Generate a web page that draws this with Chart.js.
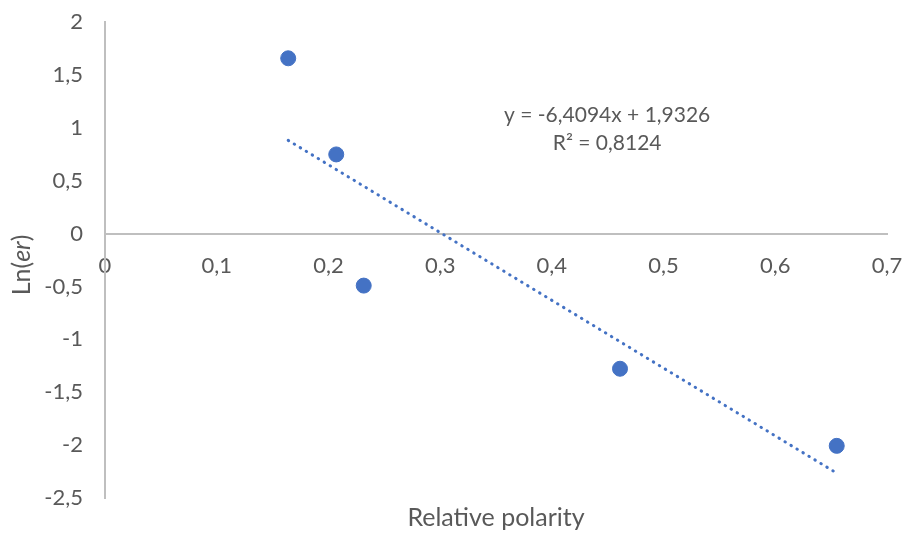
<!DOCTYPE html>
<html>
<head>
<meta charset="utf-8">
<script src="https://cdn.jsdelivr.net/npm/chart.js@4/dist/chart.umd.min.js"></script>
<style>
  html, body { margin: 0; padding: 0; background: #fff; }
  #wrap { width: 904px; height: 533px; }
</style>
</head>
<body>
<div id="wrap"><canvas id="chart"></canvas></div>
<script>
// Measured points (relative polarity vs Ln(er))
const polarity = [0.164, 0.207, 0.2316, 0.461, 0.655];
const lnEr = [1.657, 0.748, -0.492, -1.278, -2.007];

// Trendline end points
const trendX = [0.164, 0.655];
const trendY = [0.881, -2.265];

const equationLines = ["y = -6,4094x + 1,9326", "R² = 0,8124"];

const FONT = "Lato, 'Open Sans', sans-serif";
const TEXT_COLOR = "#595959";
const AXIS_COLOR = "#bfbfbf";

// Excel style decimal comma
const fmt = (v) => Number(v.toFixed(1)).toString().replace(".", ",");

// keep the plot box where the layout padding puts it
const noPadding = (scale) => {
  scale.paddingTop = 0;
  scale.paddingBottom = 0;
  scale.paddingLeft = 0;
  scale.paddingRight = 0;
};

// Draws the y title (with italic "er") and the trendline equation
const annotations = {
  id: "annotations",
  afterDraw(chart) {
    const { ctx, scales } = chart;
    ctx.save();
    ctx.fillStyle = TEXT_COLOR;

    // y axis title, rotated
    const parts = [
      { t: "Ln(", f: "25px " + FONT },
      { t: "er", f: "italic 25px " + FONT },
      { t: ")", f: "25px " + FONT }
    ];
    let total = 0;
    parts.forEach(p => { ctx.font = p.f; p.w = ctx.measureText(p.t).width; total += p.w; });
    ctx.translate(22, 265);
    ctx.rotate(-Math.PI / 2);
    ctx.textBaseline = "middle";
    ctx.textAlign = "left";
    let x = -total / 2;
    parts.forEach(p => { ctx.font = p.f; ctx.fillText(p.t, x, 0); x += p.w; });
    ctx.restore();

    // trendline label
    ctx.save();
    ctx.fillStyle = TEXT_COLOR;
    ctx.font = "21px " + FONT;
    ctx.textAlign = "center";
    ctx.textBaseline = "middle";
    const cx = scales.x.getPixelForValue(0.4495);
    ctx.fillText(equationLines[0], cx, scales.y.getPixelForValue(1.12));
    ctx.fillText(equationLines[1], cx, scales.y.getPixelForValue(0.855));
    ctx.restore();
  }
};

const config = {
  type: "scatter",
  data: {
    datasets: [
      {
        label: "Trend",
        type: "line",
        data: trendX.map((v, i) => ({ x: v, y: trendY[i] })),
        borderColor: "#4472c4",
        borderWidth: 3,
        borderDash: [0.5, 6.5],
        borderCapStyle: "round",
        pointRadius: 0,
        fill: false,
        order: 2
      },
      {
        label: "Ln(er)",
        data: polarity.map((v, i) => ({ x: v, y: lnEr[i] })),
        backgroundColor: "#4472c4",
        borderColor: "#4472c4",
        pointRadius: 7.5,
        pointHoverRadius: 7.5,
        order: 1
      }
    ]
  },
  options: {
    responsive: true,
    maintainAspectRatio: false,
    animation: false,
    layout: {
      padding: { top: 22, right: 17, left: 0, bottom: 0 }
    },
    plugins: {
      legend: { display: false },
      title: { display: false },
      tooltip: { enabled: false }
    },
    scales: {
      x: {
        type: "linear",
        position: { y: 0 },
        min: 0,
        max: 0.7,
        grid: { display: false, drawTicks: false },
        border: { color: AXIS_COLOR, width: 2 },
        ticks: {
          stepSize: 0.1,
          padding: 19,
          color: TEXT_COLOR,
          font: { family: FONT, size: 22 },
          callback: (v) => fmt(v)
        },
        afterFit: noPadding
      },
      xTitle: {
        type: "linear",
        position: "bottom",
        min: 0,
        max: 0.7,
        grid: { display: false, drawTicks: false },
        border: { display: false },
        ticks: { display: false },
        title: {
          display: true,
          text: "Relative polarity",
          color: TEXT_COLOR,
          font: { family: FONT, size: 25 },
          padding: { top: 0, bottom: 0 }
        },
        afterFit(scale) { noPadding(scale); scale.height = 35; }
      },
      y: {
        min: -2.5,
        max: 2,
        grid: { display: false, drawTicks: false },
        border: { color: AXIS_COLOR, width: 2 },
        ticks: {
          stepSize: 0.5,
          padding: 22,
          color: TEXT_COLOR,
          font: { family: FONT, size: 22 },
          callback: (v) => fmt(v)
        },
        afterFit(scale) { noPadding(scale); scale.width = 105; }
      }
    }
  },
  plugins: [annotations]
};

new Chart(document.getElementById("chart"), config);
</script>
</body>
</html>
